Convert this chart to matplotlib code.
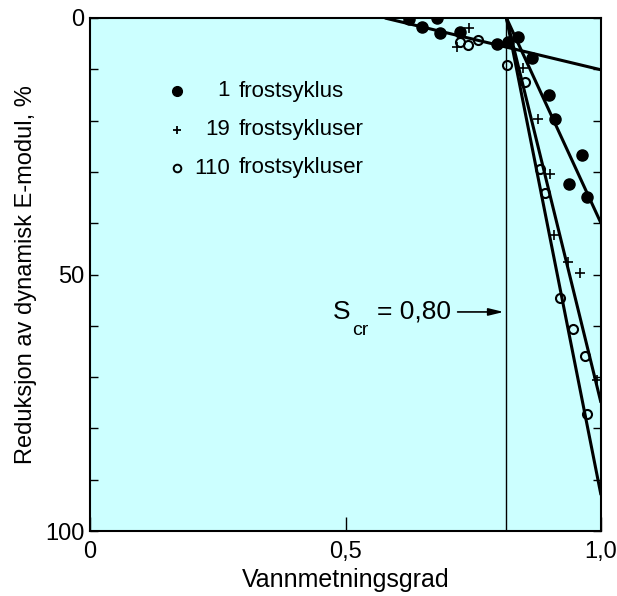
import matplotlib
matplotlib.use("Agg")
import matplotlib.pyplot as plt
import numpy as np

plt.rcParams["font.family"] = ["Liberation Sans", "DejaVu Sans"]

# measured points: x = vannmetningsgrad, y = reduksjon av E-modul (%)
x_1 = [0.624, 0.679, 0.650, 0.685, 0.724, 0.796, 0.818, 0.838, 0.865, 0.898, 0.910, 0.963, 0.937, 0.973]
y_1 = [0.2, 0.0, 1.8, 2.9, 2.7, 5.1, 4.7, 3.7, 7.8, 15.0, 19.7, 26.7, 32.4, 34.9]
x_19 = [0.742, 0.718, 0.847, 0.877, 0.900, 0.908, 0.935, 0.959, 0.992]
y_19 = [1.9, 5.7, 9.7, 19.7, 30.4, 42.3, 47.6, 49.7, 70.6]
x_110 = [0.724, 0.740, 0.759, 0.816, 0.851, 0.881, 0.890, 0.920, 0.945, 0.969, 0.973]
y_110 = [4.7, 5.3, 4.3, 9.2, 12.5, 29.4, 34.1, 54.6, 60.6, 65.9, 77.2]

# fitted lines (start/end)
line_flat = ([0.577, 1.0], [0.0, 10.1])
line_1 = ([0.815, 1.0], [0.0, 40.0])
line_19 = ([0.815, 1.0], [0.0, 75.0])
line_110 = ([0.815, 1.0], [0.0, 93.0])
s_cr = 0.815

legend_nums = ["1", "19", "110"]
legend_words = ["frostsyklus", "frostsykluser", "frostsykluser"]

fig = plt.figure(figsize=(6.17, 5.96), dpi=100)
ax = fig.add_axes([90 / 617, 1 - 531 / 596, 511 / 617, 513 / 596])
ax.set_facecolor("#ccffff")

lw = 2.2
for xs, ys in [line_flat, line_1, line_19, line_110]:
    ax.plot(xs, ys, color="black", lw=lw, solid_capstyle="butt", zorder=3)
ax.plot([s_cr, s_cr], [0, 100], color="black", lw=1.0, zorder=2)

ax.plot(x_1, y_1, "o", color="black", ms=8, zorder=4)
ax.plot(x_19, y_19, "+", color="black", ms=7, mew=1.2, zorder=4)
ax.plot(x_110, y_110, "o", mfc="none", mec="black", ms=6.5, mew=1.5, zorder=4)

# legend drawn by hand so the numbers line up on the right
leg_markers = [dict(marker="o", color="black", ms=7),
               dict(marker="+", color="black", ms=6, mew=1.3),
               dict(marker="o", mfc="none", mec="black", ms=5.5, mew=1.4)]
for i, (num, word, mk) in enumerate(zip(legend_nums, legend_words, leg_markers)):
    yy = 1 - (91 - 18 + 38.5 * i) / 513
    ax.plot([(177 - 90) / 511], [yy], transform=ax.transAxes, ls="none", **mk)
    ax.text((230 - 90) / 511, yy, num, transform=ax.transAxes, ha="right", va="center", fontsize=16)
    ax.text((239 - 90) / 511, yy, word, transform=ax.transAxes, ha="left", va="center", fontsize=16)

# S_cr annotation
ax.annotate("", xy=(s_cr, 57.3), xytext=(0.714, 57.3),
            arrowprops=dict(arrowstyle="-|>,head_length=0.9,head_width=0.22", color="black", lw=1.2))
ax.text(0.476, 57.3, "S", ha="left", va="center", fontsize=19)
ax.text(0.513, 61.0, "cr", ha="left", va="center", fontsize=14)
ax.text(0.562, 57.3, "= 0,80", ha="left", va="center", fontsize=19)

ax.set_xlim(0, 1.0)
ax.set_ylim(100, 0)
ax.set_xticks([0, 0.5, 1.0], ["0", "0,5", "1,0"])
ax.set_yticks([0, 50, 100], ["0", "50", "100"])
ax.set_yticks(np.arange(0, 101, 10), minor=True)
ax.tick_params(axis="y", which="both", direction="in", left=True, right=True, length=6, width=1, pad=4)
ax.tick_params(axis="x", direction="in", length=10, width=1, top=False, pad=7)
ax.tick_params(labelsize=17)
for s in ax.spines.values():
    s.set_linewidth(1.5)

ax.set_xlabel("Vannmetningsgrad", fontsize=18, labelpad=4)
ax.set_ylabel("Reduksjon av dynamisk E-modul, %", fontsize=17, labelpad=6)

fig.savefig("out.png", dpi=100)
